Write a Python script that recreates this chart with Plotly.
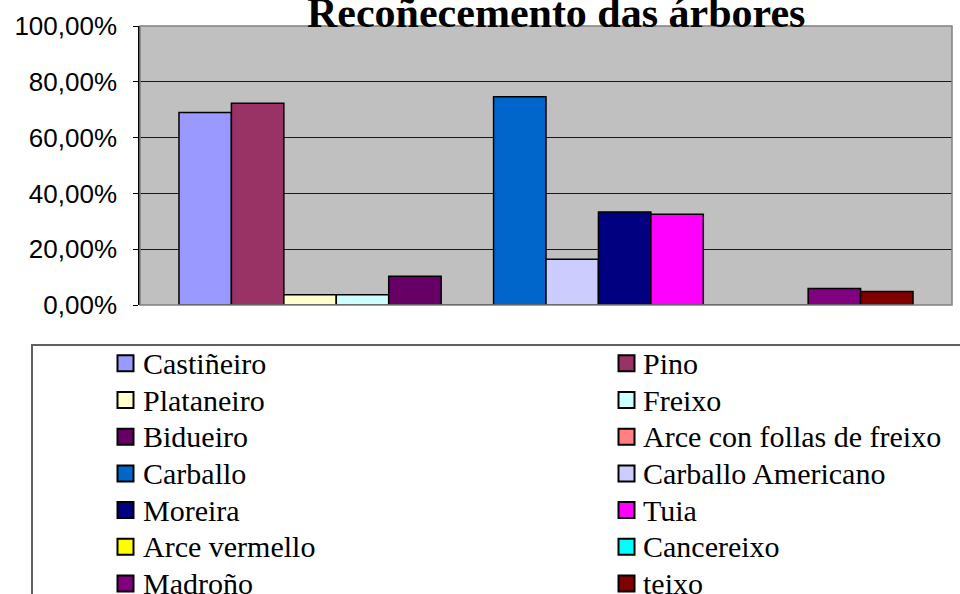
import plotly.graph_objects as go

# ---- data ----
species = ["Castiñeiro", "Pino", "Plataneiro", "Freixo", "Bidueiro",
           "Arce con follas de freixo", "Carballo", "Carballo Americano",
           "Moreira", "Tuia", "Arce vermello", "Cancereixo", "Madroño", "teixo"]
values = [0.690, 0.723, 0.037, 0.037, 0.103, 0.0, 0.746, 0.164,
          0.333, 0.325, 0.0, 0.0, 0.059, 0.048]
colors = ["#9999FF", "#993366", "#FFFFCC", "#CCFFFF", "#660066", "#FF8080",
          "#0066CC", "#CCCCFF", "#000080", "#FF00FF", "#FFFF00", "#00FFFF",
          "#800080", "#800000"]
category = [""]
y_ticks = [0, 0.2, 0.4, 0.6, 0.8, 1.0]
title_text = "Recoñecemento das árbores"

W, H = 960, 594
L, R, T, B = 140, 8, 26, 289
PW, PH = W - L - R, H - T - B
SERIF = "Times New Roman"

def px(x):
    return (x - L) / PW

def py(y):
    return (H - B - y) / PH

fig = go.Figure()
for name, v, c in zip(species, values, colors):
    fig.add_trace(go.Bar(
        x=category, y=[v], name=name,
        marker=dict(color=c, line=dict(color="black", width=1.5)),
        showlegend=False,
    ))

shapes = []
annotations = []

# plot-area border (gray)
shapes.append(dict(type="rect", xref="paper", yref="paper", x0=0, x1=1, y0=0, y1=1,
                   line=dict(color="#808080", width=1.5), layer="above"))
# legend box
shapes.append(dict(type="rect", xref="paper", yref="paper",
                   x0=px(32), x1=px(990), y0=py(345), y1=py(620),
                   line=dict(color="#606060", width=2), fillcolor="white", layer="below"))

# legend entries built from the series arrays
sw_x = [125.5, 626.5]
txt_x = [141, 641]
row0, drow = 363.3, 36.7
for i, (name, c) in enumerate(zip(species, colors)):
    col, row = i % 2, i // 2
    cy = row0 + row * drow
    shapes.append(dict(type="rect", xref="paper", yref="paper",
                       x0=px(sw_x[col] - 8), x1=px(sw_x[col] + 8),
                       y0=py(cy - 8), y1=py(cy + 8),
                       fillcolor=c, line=dict(color="black", width=2)))
    annotations.append(dict(xref="paper", yref="paper", x=px(txt_x[col]), y=py(cy),
                            xanchor="left", yanchor="middle", showarrow=False,
                            text=name,
                            font=dict(family=SERIF, size=30, color="black")))

# title
annotations.append(dict(xref="paper", yref="paper", x=px(556), y=py(13),
                        xanchor="center", yanchor="middle", showarrow=False,
                        text="<b>" + title_text + "</b>",
                        font=dict(family=SERIF, size=42, color="black")))

fig.update_layout(
    width=W, height=H,
    margin=dict(l=L, r=R, t=T, b=B, autoexpand=False),
    paper_bgcolor="white",
    plot_bgcolor="#C0C0C0",
    barmode="group",
    bargap=0.096,
    bargroupgap=0,
    separators=", ",
    shapes=shapes,
    annotations=annotations,
    showlegend=False,
)
fig.update_xaxes(showticklabels=False, ticks="", showgrid=False, zeroline=False,
                 range=[-0.5, 0.5])
fig.update_yaxes(range=[0, 1], tickvals=y_ticks, tickformat=".2%",
                 showgrid=True, gridcolor="#1a1a1a", gridwidth=1,
                 zeroline=False, showline=True, linecolor="black", linewidth=1.5,
                 ticks="outside", ticklen=5, tickcolor="black", tickwidth=1,
                 ticklabelstandoff=11,
                 tickfont=dict(family="Liberation Sans", size=26, color="black"))

fig.write_html("out.html", config={"displayModeBar": False},
               post_script="document.body.style.margin='0px';")
